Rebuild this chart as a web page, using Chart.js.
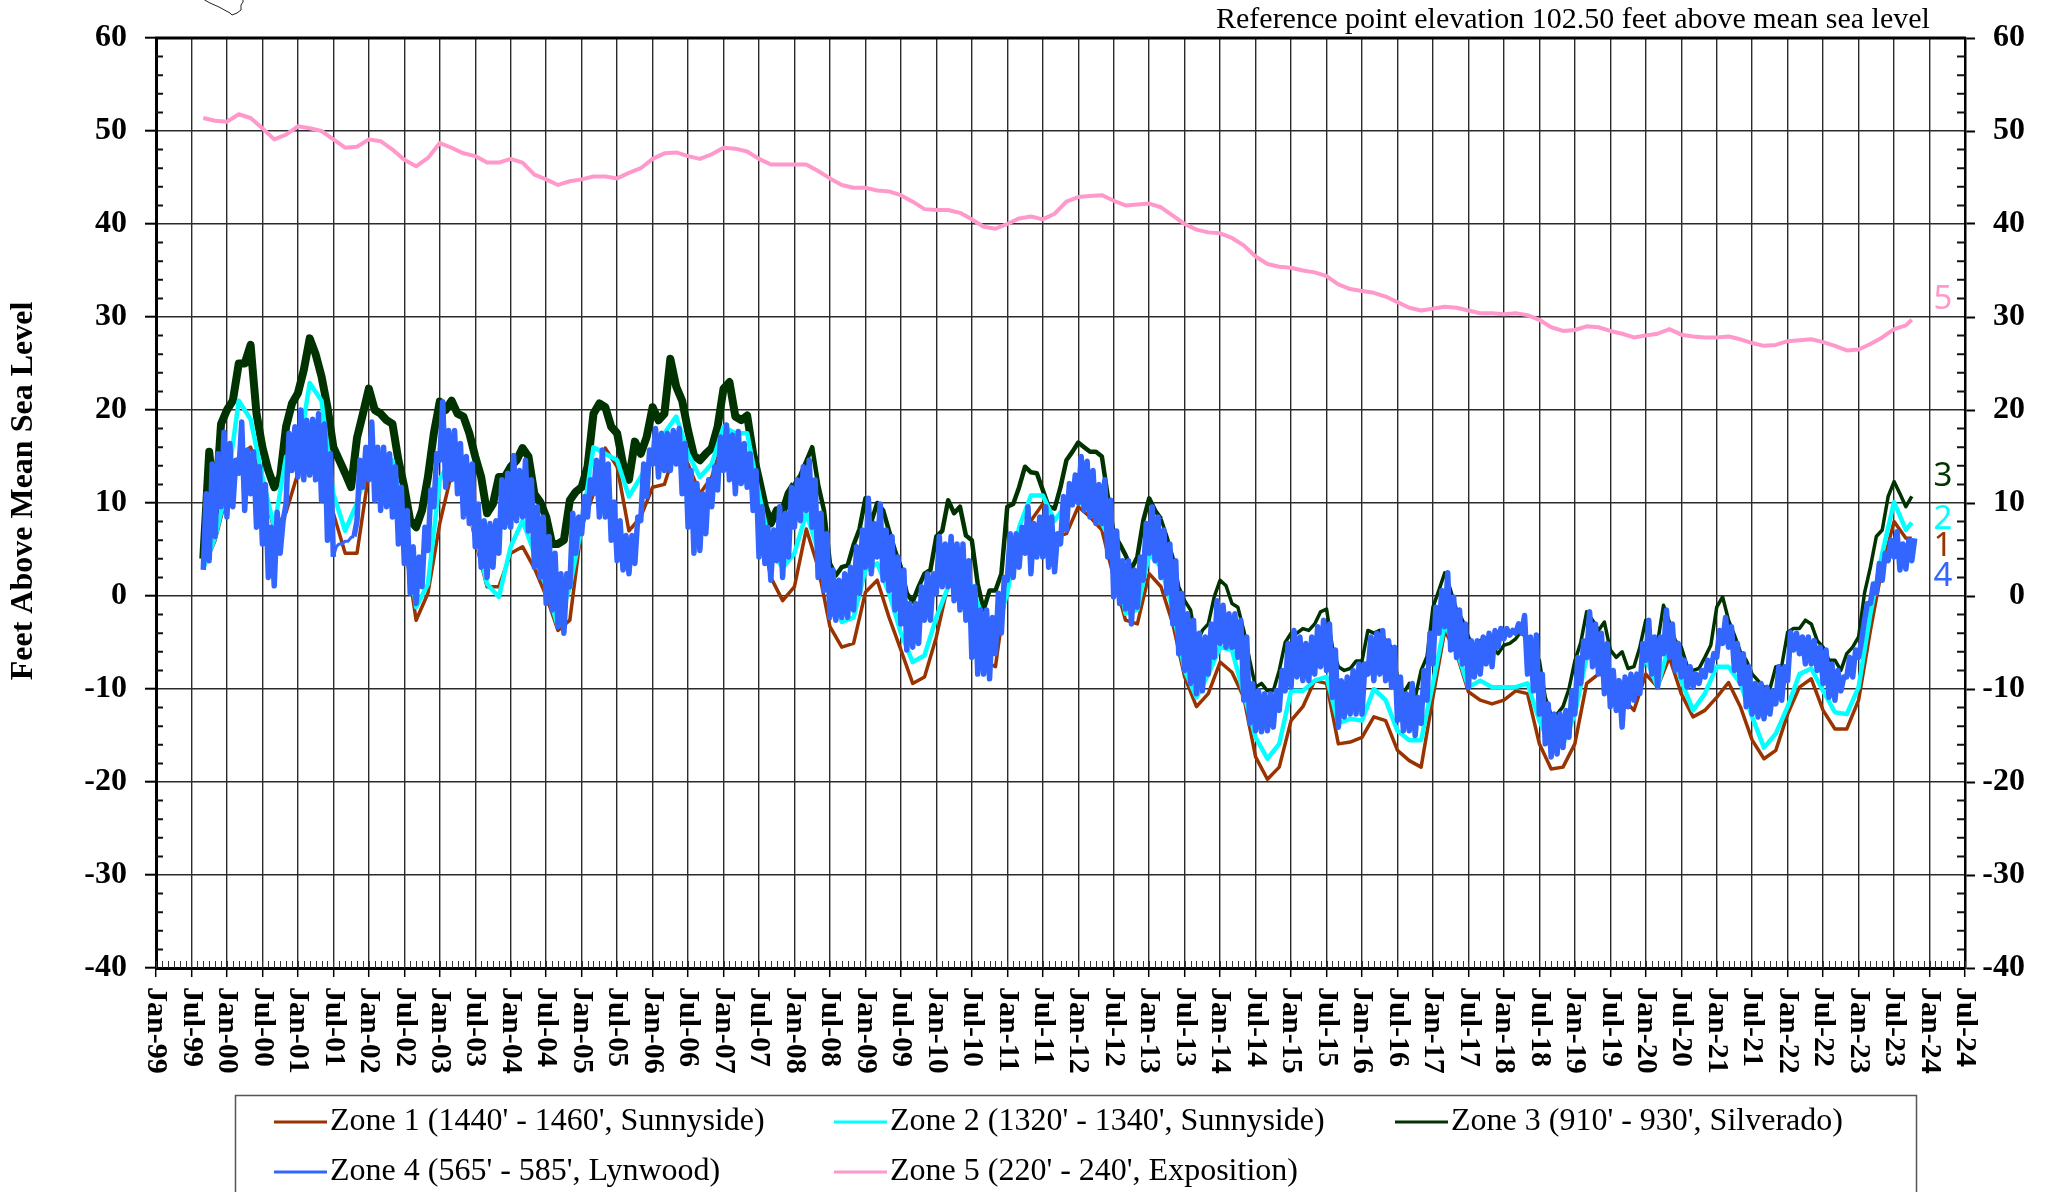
<!DOCTYPE html>
<html><head><meta charset="utf-8">
<style>html,body{margin:0;padding:0;background:#fff;overflow:hidden}canvas{display:block}</style>
<script src="https://cdn.jsdelivr.net/npm/chart.js@4"></script>
</head><body><canvas id="c" width="2045" height="1192"></canvas>
<script>
// Axis tick labels, one every six months starting at month 0 (Jan-99)
const tickLabels = ["Jan-99","Jul-99","Jan-00","Jul-00","Jan-01","Jul-01","Jan-02","Jul-02","Jan-03","Jul-03","Jan-04","Jul-04","Jan-05","Jul-05","Jan-06","Jul-06","Jan-07","Jul-07","Jan-08","Jul-08","Jan-09","Jul-09","Jan-10","Jul-10","Jan-11","Jul-11","Jan-12","Jul-12","Jan-13","Jul-13","Jan-14","Jul-14","Jan-15","Jul-15","Jan-16","Jul-16","Jan-17","Jul-17","Jan-18","Jul-18","Jan-19","Jul-19","Jan-20","Jul-20","Jan-21","Jul-21","Jan-22","Jul-22","Jan-23","Jul-23","Jan-24","Jul-24"];
const seriesNames = ["Zone 1 (1440' - 1460', Sunnyside)","Zone 2 (1320' - 1340', Sunnyside)","Zone 3 (910' - 930', Silverado)","Zone 4 (565' - 585', Lynwood)","Zone 5 (220' - 240', Exposition)"];
const seriesColors = ["#993300","#00ffff","#003300","#3366ff","#ff99cc"];
const endLabels = ["1","2","3","4","5"];

// Values every 2 months, months 8,10 then Jan,Mar,May,Jul,Sep,Nov of each year; last is month 297
const zone1 = [3,6,
 11,15,16,12.5,7,9,
 13.2,14,13,8.9,4.6,4.6,
 13.2,13,12,6,-2.6,0.3,
 7.8,13.2,12,6,1,1,
 4.6,5.3,3,0,-3.7,-2.6,
 7.4,11,15.9,13.9,7,8.5,
 11.7,12,16,14.2,11,12.8,
 16.8,16.4,15.3,8.5,2,-0.5,
 1,7.2,3.1,-3.3,-5.5,-5.1,
 0.4,1.7,-2.3,-5.8,-9.4,-8.7,
 -4.4,1.3,0.6,-1.9,-6.9,-7.6,
 1.7,6.4,8.1,9.9,6.3,6.7,
 9.6,8.5,7.1,2,-2.6,-3,
 2.4,1,-3,-8.7,-11.9,-10.5,
 -7.1,-8.2,-10.9,-17.3,-19.7,-18.4,
 -13.4,-11.9,-9.1,-9.4,-15.9,-15.7,
 -15.2,-13,-13.4,-16.6,-17.7,-18.4,
 -10.9,-3.7,-6.2,-10.3,-11.2,-11.6,
 -11.2,-10.2,-10.5,-15.9,-18.6,-18.4,
 -15.9,-9.4,-8.4,-8.7,-10.9,-12.3,
 -8.4,-9.8,-6.6,-10.5,-13,-12.3,
 -10.9,-9.3,-11.9,-15.5,-17.5,-16.6,
 -12.7,-9.8,-8.9,-12.3,-14.3,-14.3,
 -11.2,-3.7,3.1,8,6.2,6.2];
const zone2 = [3,6.3,
 11.7,21,19,12.8,7.4,15,
 15,22.9,21,11,7,10,
 14.6,12.8,14.6,8,-1.2,1.3,
 12.5,15,11.7,6.7,1.3,-0.1,
 5.3,8.1,4.6,1,-3.3,1,
 7.4,16,15.3,14.6,10.7,12.8,
 15,17.5,19.3,15.3,12.8,14.2,
 18.2,17.5,17.5,11,5,3,
 4.6,8.9,4.9,1,-2.8,-2.3,
 2.8,3.5,0.3,-4,-7.1,-6.4,
 -2.3,1,3,1,-2.6,-4,
 0.3,7.4,10.8,10.8,8.1,9.9,
 10.3,9,7.8,5.3,-1.9,-1.5,
 4.6,3.1,-1.5,-8,-10.9,-8.4,
 -5.5,-5.8,-10.5,-15.2,-17.5,-15.9,
 -10.2,-10.2,-9.1,-8.7,-13.7,-13.2,
 -13.4,-10,-11.2,-14.5,-15.5,-15.5,
 -9.4,-3,-5.8,-9.8,-9.1,-9.8,
 -9.8,-9.8,-9.4,-13.4,-16.3,-15.9,
 -12.7,-6.6,-6.9,-9.8,-9.4,-10.2,
 -6.6,-9.8,-5.1,-9.1,-12.3,-10.5,
 -7.6,-7.6,-9.4,-13,-16.3,-14.8,
 -11.9,-8.4,-7.8,-10.2,-12.5,-12.7,
 -9.8,-1.9,4.6,10.1,7.1,7.9];
const zone5 = [51.4,51.1,
 51,51.8,51.4,50.3,49.1,49.6,
 50.5,50.3,50,49.1,48.2,48.3,
 49.1,48.9,48,46.9,46.2,47.1,
 48.7,48.2,47.6,47.3,46.6,46.6,
 47,46.6,45.3,44.8,44.2,44.6,
 44.8,45.1,45.1,44.9,45.5,46,
 47,47.6,47.7,47.3,47,47.5,
 48.2,48.1,47.8,47,46.4,46.4,
 46.4,46.4,45.7,44.9,44.2,43.9,
 43.9,43.6,43.5,43.1,42.4,41.6,
 41.5,41.5,41.2,40.5,39.7,39.5,
 40,40.6,40.8,40.5,41.1,42.4,
 42.9,43,43.1,42.5,42,42.1,
 42.2,41.8,40.9,40,39.4,39.1,
 39,38.5,37.7,36.5,35.7,35.4,
 35.3,35,34.8,34.4,33.5,33,
 32.8,32.6,32.2,31.6,31,30.7,
 30.9,31.1,31,30.7,30.4,30.4,
 30.3,30.4,30.2,29.7,28.9,28.5,
 28.6,29,28.9,28.5,28.2,27.8,
 28,28.2,28.7,28.1,27.9,27.8,
 27.8,27.9,27.6,27.2,26.9,27,
 27.4,27.5,27.6,27.3,26.9,26.4,
 26.5,27.1,27.8,28.7,29.1,29.7];

// Monthly values, one row per year, first row Sep-Dec 1999, last row Jan-Oct 2023
const zone3 = [4,15.5,9,18.5,
 20,21,25,25,27,19.6,16,13.5,11.7,12.8,18.2,20.7,
 21.8,24.3,27.7,26,23.6,20.3,16,14.6,13.2,11.7,17,19.6,
 22.3,20,19.6,18.9,18.5,14.6,11.7,8.1,7.4,9.2,12.8,17.5,
 20.9,20,21,19.6,19.3,17.5,15,12.8,8.9,9.9,12.8,12.8,
 13.9,14.6,15.9,15,11,10.1,8.5,5.6,5.6,6,10.3,11.2,
 11.7,13.9,19.6,20.7,20.3,18.2,17.5,14.2,12.5,16.6,15.3,17.1,
 20.3,18.9,19.6,25.5,22.5,21,17.8,15.1,14.6,15.3,15.9,18.2,
 22.3,23,19.3,18.9,19.4,15.3,12.5,9.6,7.8,9.2,9,11,
 12,13,14.5,16,12,9.2,3.5,2.2,3.1,3.3,5.5,7.2,
 10.5,8,10,9.2,7,4.9,3.1,0.3,-0.6,1,2.4,2.8,
 6.4,7,10.3,8.9,9.6,6.5,6,1.3,-1.5,0.6,0.6,2.4,
 9.6,9.9,11.7,13.9,13.3,13.2,11.4,9.6,9.4,11.7,14.6,15.5,
 16.5,16,15.5,15.5,15,10.7,6.7,5.6,4.4,2.9,4.2,8.1,
 10.5,9.2,8.3,6.4,4.2,1,-0.5,-1.5,-5.1,-3.7,-3,-0.1,
 1.7,1.1,-0.8,-1.2,-3.7,-6.9,-9.8,-9.4,-10.2,-10.2,-8,-5,
 -4,-4,-3.5,-3.7,-3,-1.7,-1.4,-5.5,-7.6,-8,-7.8,-7,
 -7,-3.7,-4,-3.7,-4.8,-5.5,-8.7,-10.5,-9.4,-10.9,-8,-6.5,
 -1.2,0.6,2.5,0.6,-1.5,-2.6,-4.4,-5.5,-4.8,-4.5,-5.5,-6.2,
 -5.3,-5.1,-4.6,-3.7,-5,-6.6,-6.9,-10.9,-12.8,-12.7,-11.9,-10,
 -7,-5,-1.7,-2.6,-3.7,-2.8,-5.8,-6.6,-6,-7.8,-7.6,-5.5,
 -2.6,-4.6,-5,-1,-2.8,-4.8,-5.5,-7.5,-8,-7.8,-6.6,-5.3,
 -1.2,-0.1,-2.6,-4.2,-6,-6.9,-8.4,-9.1,-9.8,-10,-7.6,-7.5,
 -3.9,-3.5,-3.5,-2.6,-3,-4.8,-5.5,-6.9,-6.9,-8,-6.2,-5.5,
 -4.4,0.3,3.1,6.4,7.1,10.7,12.3,11,9.6,10.7];
const zone4High = [11,14.2,15.3,17.6,
 16.4,14.6,18.7,15.7,15.5,13.9,12,7.4,9,8.1,17.5,18.2,
 20,18.9,19,19.6,18.5,15.3,5.3,5.6,5.9,6.4,14.6,16,
 18.7,16,16,15.3,13.9,11.7,9.2,5.3,4.2,7.4,11.4,15.3,
 20.9,17.8,17.8,16.4,15,14.2,9.9,8.1,7.8,8.1,12.5,13.2,
 15.1,13.5,14.6,12.5,9.6,8.5,6.4,4.6,2.4,2.4,8.9,8.5,
 10.7,12.5,14.6,15.7,14.2,10.1,8.1,6.5,6.5,8.5,14.2,15.7,
 18,17.5,17.5,17.8,18,16.4,13.5,12.1,11,12.5,13.9,17.1,
 18.4,17.3,17.7,16.4,15.3,13.5,9.6,7.4,7.1,9.6,8.9,11.7,
 12.5,13.9,14.6,12.5,8.9,6.7,2.8,1.7,2.4,3.1,5.3,7.1,
 10.5,7.8,9.9,7.1,6.4,4.2,2.8,-0.8,-0.8,1,2.4,2.4,
 6.4,5.6,6.4,5.6,5.6,3.8,1,-1.5,-1.5,-2.3,0.3,2,
 6.7,6.7,7.4,9.6,7.8,8.5,9.6,8.5,6.7,10.7,12.1,13,
 15,14.5,13.5,12,12.5,10.3,7,3.8,3.8,2.8,4.2,7.8,
 9.6,8.5,7.1,5.6,3.8,0.3,-1.9,-2.6,-4,-4.4,-3,-0.5,
 -1,-1.9,-1.9,-2.6,-4.4,-9.4,-10.2,-10.5,-10.5,-10.2,-8,-5.1,
 -3.7,-4.4,-5.1,-4.4,-3.3,-2.6,-3,-5.8,-9.1,-8.7,-8,-7.3,
 -7.3,-4.4,-4,-3.7,-4.8,-5.5,-8.7,-10.5,-9.4,-10.9,-8,-4,
 -1.2,0.6,2.5,-0.1,-1.5,-3,-4.8,-4.8,-4.4,-4,-3.7,-3.5,
 -3.5,-3.7,-3,-2.1,-4.4,-4.2,-8.4,-11.6,-12.7,-12.7,-12.3,-10.2,
 -6.6,-4.8,-1.7,-3,-4,-5.1,-8,-9.1,-8.7,-8.4,-8.4,-5.1,
 -2.6,-4.4,-4.4,-1.5,-3,-5.1,-6.9,-7.6,-8.4,-8,-6.9,-6.2,
 -3.7,-2.3,-3.3,-5.1,-6.2,-7.6,-9.4,-9.4,-9.8,-10.2,-7.6,-7.6,
 -3.9,-4,-4.4,-4.4,-4.8,-5.5,-5.8,-7.3,-8,-8.7,-6.6,-5.8,
 -4.8,-0.8,1.3,3.5,4.6,6,6.9,5.6,6,6.2];
const zone4Low = [2.8,3.8,6.4,9.6,
 8.5,9.6,13.2,9.2,11,7.4,5.6,2,1.1,4.6,9.9,13.5,
 12.8,12.5,13,12.5,10.3,6,4.2,5.6,5.9,6.3,8.1,11.7,
 12.5,10.3,9.2,9.6,8.5,5.6,3.5,0.3,-0.8,1,4.9,9.6,
 14.6,11.7,12.5,11,8.5,7.8,5.3,3.1,2,3.1,4.6,7.4,
 7.4,8.1,8.5,7,3.1,2,-0.8,-1.5,-3.3,-4,1,4.6,
 6.7,8.5,11,8.5,8.5,6,3.8,2.8,2.4,3.5,8.1,10.7,
 14.2,12.8,13.5,13.5,14.2,11,7.4,4.6,4.9,6.7,9.6,11.4,
 13.5,12.5,11,12.1,11.7,9.2,4.2,3.5,1.7,3.8,2,4.2,
 7.4,8.1,9.2,7.4,2,0.6,-2.3,-2.6,-2.3,-2.3,-1.5,0.3,
 3.1,2.4,4.2,1.7,0.6,-1.5,-3,-5.8,-5.5,-5.1,-2.6,-2.6,
 0.3,1,1,-0.5,-1.5,-2.6,-6.6,-8.4,-8.4,-8.9,-6.2,-4,
 1.7,2,3.1,4.6,2.4,4.2,4.2,3.1,2.6,5.6,7.1,9.8,
 10,9.2,8.5,7.8,7.8,4.2,-0.1,-0.8,-1.4,-3,-1.2,1.7,
 4.6,3.8,2,0.3,-3,-6.2,-8,-9.4,-10.5,-10.2,-8.4,-6.6,
 -5.1,-5.5,-5.5,-6.6,-11.2,-13.7,-14.5,-14.6,-14.5,-14.1,-12.3,-10.2,
 -9.8,-8.7,-9.1,-9.1,-8.4,-7.6,-8,-10.9,-14.1,-13,-12.7,-12.7,
 -12.7,-8.4,-9.1,-8.4,-9.1,-9.8,-13.4,-14.5,-14.5,-15,-13.7,-11.2,
 -7.3,-4,-3.3,-5.8,-6.6,-7.3,-9.8,-8.7,-8.4,-7.3,-7.6,-5.5,
 -4.6,-4.2,-4,-4,-8.4,-10.2,-12.7,-15.9,-17.3,-17,-16.3,-15.2,
 -12.7,-9.4,-6.6,-7.6,-8.4,-10.5,-11.9,-12.3,-14.1,-11.9,-11.2,-10.5,
 -6.9,-8.4,-9.8,-6.2,-6.6,-8,-8.7,-9.8,-9.8,-9.4,-8.7,-8,
 -6.6,-5.1,-5.5,-8,-9.4,-11.9,-12.7,-13,-13.2,-12.7,-11.6,-11.2,
 -9.1,-5.8,-6.2,-7.3,-7.3,-8,-9.4,-10.9,-11.2,-10.2,-8.7,-8.7,
 -6.6,-2.6,-0.8,0.3,1.7,3.8,4.2,2.8,2.9,3.8];

const every2 = (vals) => vals.map((v, i) => ({x: i === vals.length - 1 ? 297 : 8 + i * 2, y: v}));
const monthly = (vals) => vals.map((v, i) => ({x: 8 + i, y: v}));
const band = (hi, lo) => hi.flatMap((h, i) => [{x: 8 + i, y: lo[i]}, {x: 8.5 + i, y: h}]);

const SERIF = '"Liberation Serif","Times New Roman",serif';
const ink = '#2b2b2b';

const extras = {
  id: 'extras',
  beforeDraw(chart) {
    chart.scales.x._getXAxisLabelAlignment = () => 'left';
  },
  afterDraw(chart) {
    const c = chart.ctx, a = chart.chartArea, X = chart.scales.x, Y = chart.scales.y;
    c.save();
    // frame top
    c.strokeStyle = '#000'; c.lineWidth = 3;
    c.beginPath(); c.moveTo(a.left - 1, a.top); c.lineTo(a.right + 1, a.top); c.stroke();
    // minor y ticks
    c.lineWidth = 2; c.strokeStyle = '#111';
    c.beginPath();
    for (let v = -40; v <= 60; v += 2) {
      if (v % 10 === 0) continue;
      const p = Y.getPixelForValue(v);
      c.moveTo(a.left, p); c.lineTo(a.left + 7, p);
      c.moveTo(a.right - 8, p); c.lineTo(a.right, p);
    }
    c.stroke();
    // minor x ticks
    c.lineWidth = 1; c.strokeStyle = '#333';
    c.beginPath();
    for (let m = 0; m <= 306; m++) {
      const p = Math.round(X.getPixelForValue(m)) + .5;
      c.moveTo(p, a.bottom); c.lineTo(p, a.bottom - 7);
    }
    c.stroke();
    // y axis title
    c.save();
    c.translate(24, 491); c.rotate(-Math.PI / 2);
    c.font = 'bold 32px ' + SERIF; c.fillStyle = '#000'; c.textAlign = 'center'; c.textBaseline = 'middle';
    c.fillText('Feet Above Mean Sea Level', 0, 0);
    c.restore();
    // reference note
    c.font = '30px ' + SERIF; c.fillStyle = '#000'; c.textAlign = 'left'; c.textBaseline = 'alphabetic';
    c.fillText('Reference point elevation 102.50 feet above mean sea level', 1216, 28);
    // end labels
    c.font = '33px "Noto Sans"'; c.textAlign = 'center'; c.textBaseline = 'middle';
    const endY = [547, 520, 477, 577, 300];
    endLabels.forEach((t, i) => { c.fillStyle = seriesColors[i]; c.fillText(t, 1943, endY[i]); });
    // map fragment
    c.strokeStyle = '#222'; c.lineWidth = 1;
    c.beginPath();
    [[204.5,0],[210,3],[219,7],[230,13],[232,15],[237,13],[241,10],[241,5],[243,2],[243,0]].forEach((p, i) => i ? c.lineTo(p[0], p[1]) : c.moveTo(p[0], p[1]));
    c.stroke();
    // legend
    c.strokeStyle = '#555'; c.lineWidth = 1.5;
    c.strokeRect(235.5, 1095.5, 1681, 120);
    const cols = [274, 834, 1395], rows = [1122, 1172];
    c.font = '32px ' + SERIF; c.fillStyle = '#000'; c.textAlign = 'left'; c.textBaseline = 'middle';
    seriesNames.forEach((name, i) => {
      const x = cols[i % 3], y = rows[Math.floor(i / 3)];
      c.strokeStyle = seriesColors[i]; c.lineWidth = 3;
      c.beginPath(); c.moveTo(x, y); c.lineTo(x + 53, y); c.stroke();
      c.fillStyle = '#000';
      c.fillText(name, x + 56, y);
    });
    c.restore();
  }
};

new Chart(document.getElementById('c'), {
  type: 'line',
  data: {datasets: [
    {label: seriesNames[0], data: every2(zone1), borderColor: seriesColors[0], borderWidth: 3.5, order: 4},
    {label: seriesNames[1], data: every2(zone2), borderColor: seriesColors[1], borderWidth: 4.5, order: 2},
    {label: seriesNames[2], data: monthly(zone3), borderColor: seriesColors[2], borderWidth: 3.5, order: 3,
      segment: {borderWidth: s => s.p0.parsed.x < 108 ? 8 : (s.p0.parsed.x < 170 ? 4.5 : 3.5)}},
    {label: seriesNames[3], data: band(zone4High, zone4Low), borderColor: seriesColors[3], borderWidth: 5.5, order: 1,
      segment: {borderWidth: s => (s.p0.parsed.x >= 30 && s.p0.parsed.x < 33.5) ? 3 : 5.5}},
    {label: seriesNames[4], data: every2(zone5), borderColor: seriesColors[4], borderWidth: 4, order: 5}
  ]},
  options: {
    responsive: false, animation: false,
    layout: {padding: {top: 38, right: 20}},
    elements: {point: {radius: 0}, line: {tension: 0, borderJoinStyle: 'round'}},
    plugins: {legend: {display: false}, title: {display: false}, tooltip: {enabled: false}},
    scales: {
      x: {type: 'linear', position: 'bottom', min: 0, max: 306,
        afterFit: s => { s.height = 224; },
        afterBuildTicks: s => { s.ticks = tickLabels.map((_, i) => ({value: i * 6})); },
        border: {color: '#000', width: 3},
        grid: {color: ink, lineWidth: 1.4, tickLength: 9, tickColor: '#000', tickWidth: 1.5},
        ticks: {autoSkip: false, minRotation: -90, maxRotation: -90, padding: 10, color: '#000',
          font: {family: SERIF, size: 30, weight: 'bold'},
          callback: (v) => tickLabels[v / 6]}
      },
      y: {position: 'left', min: -40, max: 60,
        afterFit: s => { s.width = 156; },
        border: {color: '#000', width: 3},
        grid: {color: ink, lineWidth: 1.4, tickLength: 11, tickColor: '#000', tickWidth: 2},
        ticks: {stepSize: 10, autoSkip: false, padding: 18, color: '#000', font: {family: SERIF, size: 32, weight: 'bold'}}
      },
      y2: {position: 'right', min: -40, max: 60,
        afterFit: s => { s.width = 60; },
        border: {color: '#000', width: 2.5},
        grid: {drawOnChartArea: false, tickLength: 10, tickColor: '#000', tickWidth: 2},
        ticks: {stepSize: 10, autoSkip: false, padding: 8, crossAlign: 'far', color: '#000', font: {family: SERIF, size: 32, weight: 'bold'}}
      }
    }
  },
  plugins: [extras]
});
</script></body></html>
